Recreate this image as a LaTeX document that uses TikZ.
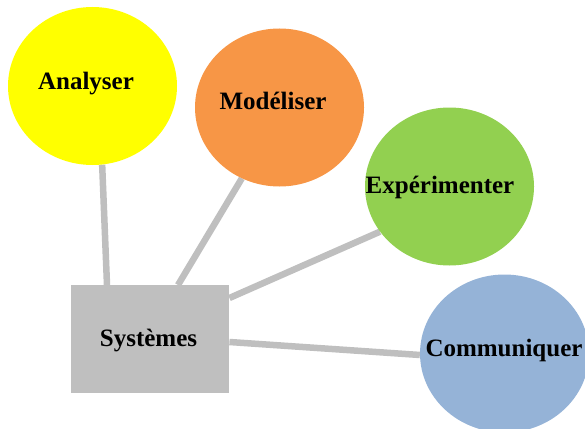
\documentclass[tikz,border=0pt]{standalone}
\usepackage{fontspec}
\setmainfont{Liberation Serif}
\usetikzlibrary{shapes.geometric,backgrounds}
\definecolor{cyellow}{HTML}{FFFF00}
\definecolor{corange}{HTML}{F79646}
\definecolor{cgreen}{HTML}{92D050}
\definecolor{cblue}{HTML}{95B3D7}
\definecolor{cgray}{HTML}{BFBFBF}
\begin{document}
\begin{tikzpicture}[x=1pt,y=-1pt,
  bubble/.style={ellipse,inner sep=0pt,draw=none,minimum width=169pt,minimum height=158pt},
  lbl/.style={font=\fontsize{25}{30}\selectfont\bfseries,inner sep=0pt},
  link/.style={draw=cgray,line width=6.5pt}]
\useasboundingbox (0,0) rectangle (585,428);
\node[bubble,fill=cyellow] (ana) at (92.5,86) {};
\node[lbl] (anaT) at (86,84) {Analyser};
\node[bubble,fill=corange] (mod) at (279.5,107.5) {};
\node[lbl] (modT) at (273,101) {Modéliser};
\node[bubble,fill=cgreen] (exp) at (449.5,186.5) {};
\node[lbl] (expT) at (440,187) {Expérimenter};
\node[bubble,fill=cblue] (com) at (504.5,353.5) {};
\node[lbl] (comT) at (504,350) {Communiquer};
\node[fill=cgray,minimum width=158pt,minimum height=108pt,inner sep=0pt,anchor=north west] (sys) at (71,285) {};
\node[lbl] (sysT) at (148.5,340.5) {Systèmes};
\begin{scope}[on background layer]
\draw[link] ([xshift=36pt]sys.north west) -- (ana.-83);
\draw[link] ([xshift=107pt]sys.north west) -- (mod.-118.4);
\draw[link] ([yshift=-13pt]sys.north east) -- (exp.213.2);
\draw[link] ([yshift=-57pt]sys.north east) -- (com.181);
\end{scope}
\end{tikzpicture}
\end{document}
